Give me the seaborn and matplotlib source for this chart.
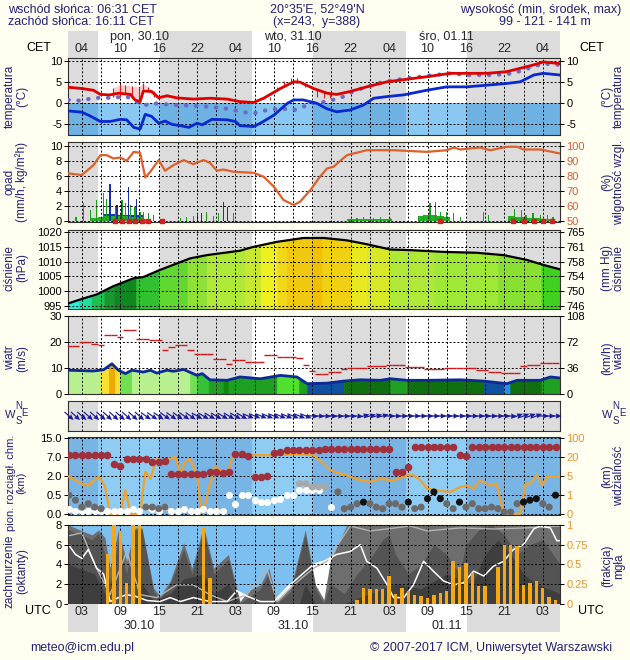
import numpy as np
import matplotlib
matplotlib.use("Agg")
import matplotlib.pyplot as plt
import seaborn as sns

sns.set_style("white")
plt.rcParams["font.family"] = ["Liberation Sans", "DejaVu Sans"]

# ================= DATA (time = hours UTC since 30.10 00:00) =================
sunrise_t = [5.5, 29.6, 53.7]
sunset_t = [15.2, 39.1, 63.1]
utc_tick_t = [3, 9, 15, 21, 27, 33, 39, 45, 51, 57, 63, 69, 75]
utc_labels = ['03', '09', '15', '21', '03', '09', '15', '21', '03', '09', '15', '21', '03']
cet_labels = ['04', '10', '16', '22', '04', '10', '16', '22', '04', '10', '16', '22', '04']
day_t = [12, 36, 60]
day_labels_top = ['pon, 30.10', 'wto, 31.10', 'śro, 01.11']
day_labels_bottom = ['30.10', '31.10', '01.11']
hours = np.arange(1, 78)

# temperature panel
temp_t = [0.9, 3, 4.8, 5.9, 7.4, 8.7, 10.6, 11.3, 12.1, 12.6, 13.9, 15, 16.3, 17.8, 20.4, 23, 25.7, 27.7,
          29.8, 31.4, 34, 36.1, 37.1, 39.2, 41.3, 42.8, 44.9, 47.5, 50.7, 53.8, 56.9, 60.6, 63.2, 66.3,
          69.4, 71.5, 73.6, 75.1, 77.7]
temp = [3.8, 3.5, 3.1, 2.1, 2.0, 2.4, 2.1, 0.8, 0.4, 2.9, 2.8, 1.3, 1.8, 1.3, 1.0, 1.2, 1.0, 0.4, 0.2, 1.2,
        3.5, 5.1, 5.0, 3.5, 2.4, 2.1, 2.8, 3.9, 5.1, 5.7, 6.3, 7.1, 7.1, 7.1, 7.5, 8.3, 9.1, 9.8, 9.4]
dew_t = [0.9, 3, 4.3, 5.9, 7.4, 9, 10, 11.1, 12.1, 12.9, 13.9, 15, 16, 17.1, 18.4, 19.7, 21, 21.8, 23.3,
         25.7, 27, 27.7, 29.8, 30.9, 33, 35.1, 36.1, 37.6, 39.7, 41.3, 42.8, 44.9, 47, 48.6, 50.7, 53.3,
         56.9, 60, 63.2, 66.3, 69.4, 71.5, 73.6, 75.1, 77.7]
dew = [-1.8, -2.1, -3.0, -4.3, -4.3, -3.8, -3.9, -5.7, -6.1, -2.6, -3.1, -4.7, -4.2, -5.0, -5.3, -5.7, -4.7,
       -5.1, -3.8, -3.9, -4.3, -5.3, -5.5, -4.7, -2.8, 0.0, 0.8, 0.8, 0.0, -1.3, -2.0, -1.6, -0.4, 1.2, 1.6,
       2.0, 3.1, 3.9, 3.9, 4.3, 4.7, 5.1, 6.7, 7.1, 6.7]
feel_t = [0.9, 3, 4.8, 7.4, 10, 11.6, 12.9, 14.2, 15.8, 17.8, 20.4, 23, 25.7, 28.3, 29.8, 31.9, 34, 36.1,
          37.1, 38.7, 41.3, 43.9, 45.5, 47.5, 50.1, 53.8, 56.9, 60.6, 63.2, 67.3, 70.4, 73.6, 75.1, 77.7]
feel = [0.8, 0.6, 1.3, 1.3, 1.6, 0.4, -0.4, 0.0, -0.2, -0.4, -0.6, -0.8, -1.3, -2.1, -2.4, -1.6, -1.2, -1.6,
        -1.2, 0.0, 0.4, 1.6, 2.9, 3.9, 5.1, 5.9, 6.5, 7.1, 6.7, 6.7, 7.1, 8.7, 9.4, 9.1]
spread_t = [7.9, 9.0, 9.8, 10.8, 11.9, 12.6, 13.3, 14.2, 32.4, 33.5, 34.6, 35.6, 36.6, 37.9, 39.7, 40.8, 41.8]
spread_lo = [1.6, 1.6, 2.1, 2.0, 0.8, 2.8, 2.8, 1.6, 0.8, 2.8, 3.9, 4.7, 4.7, 3.9, 1.6, 1.3, 1.3]
spread_hi = [3.6, 4.5, 4.3, 4.1, 3.9, 4.7, 3.9, 2.8, 1.6, 3.9, 5.3, 5.9, 5.9, 4.7, 3.5, 2.8, 2.4]

# precipitation / humidity panel
rh_t = [0.9, 3, 4.8, 5.9, 6.9, 7.9, 9, 10, 11.1, 12.1, 12.9, 13.7, 15, 16, 17.3, 18.9, 20.4, 22, 23, 24.1,
        25.1, 26.7, 29.8, 31.4, 33, 34.5, 36.1, 37.1, 38.7, 40.2, 41.3, 42.3, 44.4, 46.5, 47.5, 51.7, 56.9,
        60, 61.1, 62.1, 65.2, 66.8, 69.4, 71, 72, 74.6, 77.7]
rh = [81.8, 80.7, 87.3, 94.0, 94.0, 91.8, 92.4, 90.2, 96.2, 95.6, 79.1, 82.9, 90.7, 83.6, 87.3, 90.7, 88.0,
      90.7, 88.9, 83.6, 84.4, 82.9, 82.2, 79.6, 72.9, 64.0, 60.7, 62.9, 70.7, 79.6, 85.1, 86.2, 94.0, 96.2,
      97.3, 97.3, 96.2, 97.3, 99.1, 97.8, 99.1, 97.3, 99.6, 99.6, 97.8, 97.8, 95.1]
green_t = [2.1, 3.3, 4.3, 5.3, 6.4, 6.9, 7.4, 8.2, 9.25, 9.8, 10.6, 11.3, 12.1, 12.6, 13.4, 14.2, 18.4, 19.4,
           20.4, 22.5, 23.6, 24.4, 25.7, 26.7, 44.9, 46.0, 47.0, 48.6, 49.6, 51.2, 55.6, 56.4, 57.4, 58.2,
           59.0, 60.0, 61.1, 62.1, 65.8, 66.5, 70.6, 71.7, 72.4, 73.5, 74.6, 75.7, 76.6]
green_v = [0.5, 2.4, 1.4, 2.8, 3.7, 3.0, 2.4, 1.9, 2.8, 2.4, 2.1, 1.9, 1.2, 1.2, 1.0, 0.8, 0.35, 0.5, 0.6,
           1.2, 0.7, 1.0, 0.8, 1.0, 0.3, 0.4, 0.5, 0.4, 0.5, 0.4, 0.6, 0.8, 2.4, 2.6, 1.2, 1.2, 1.0, 0.5,
           1.2, 0.8, 1.6, 1.4, 0.8, 1.0, 0.8, 0.8, 0.5]
blue_t = [7.4, 8.5, 9.25, 10.3, 11.6, 21.0, 21.75, 25.1, 25.7]
blue_v = [5.0, 2.1, 2.6, 4.6, 3.0, 0.8, 1.0, 2.6, 1.9]
acc_t = [5, 6, 7, 8, 9, 10, 11, 12, 13, 45, 46, 47, 48, 49, 50, 51, 56, 57, 58, 59, 60, 70, 71, 72, 73, 74, 75, 76]
acc_green = [0.4, 0.5, 0.6, 0.6, 0.6, 0.6, 0.5, 0.5, 0.3, 0.2, 0.2, 0.25, 0.2, 0.25, 0.2, 0.2, 0.6, 0.8, 0.8,
             0.7, 0.5, 0.6, 0.5, 0.5, 0.4, 0.4, 0.3, 0.3]
accb_t = [7, 8, 9, 10, 11, 12]
accb_v = [0.95, 0.95, 0.85, 0.85, 0.85, 0.75]
red_t = [8.2, 9.25, 10.3, 11.3, 12.4, 13.4, 15.5, 59.0, 70.4, 72.0, 73.6, 75.1, 76.4]

# pressure panel
press_t = [0.9, 3, 5.3, 7.9, 11.1, 12.6, 15.2, 19.9, 22.5, 27.7, 29.8, 33.5, 37.6, 40.8, 44.4, 47.5, 51.2,
           54.3, 59.5, 64.7, 68.9, 72.5, 75.1, 77.7]
press = [995.9, 997.4, 998.9, 1001.7, 1004.4, 1004.8, 1007.2, 1011.1, 1012.2, 1013.7, 1015.0, 1016.7,
         1018.0, 1018.0, 1017.2, 1015.9, 1014.1, 1013.9, 1013.3, 1013.0, 1012.2, 1010.6, 1008.9, 1007.4]
press_edges = [0.88, 2.5, 4.5, 6.5, 8, 11.5, 15, 19.5, 22.5, 28.5, 31, 33.5, 35, 39, 40.5, 45, 47.5, 51, 58,
               68, 74.8, 77.7]
press_colors = ['#28F0E0', '#20E0A0', '#20C050', '#189830', '#108820', '#30C030', '#60D830', '#90E038',
                '#B0E838', '#C8E830', '#F0F020', '#F0D818', '#F0C810', '#F0C000', '#F0D010', '#E8E820',
                '#D8E828', '#B0E838', '#A0E838', '#88E030', '#40D020']
hpa_ticks = [995, 1000, 1005, 1010, 1015, 1020]
mmhg_labels = ['746', '750', '754', '758', '761', '765']

# wind panel
wind_t = [0.9, 4.8, 6.4, 7.7, 8.7, 9.8, 10.8, 12.6, 13.7, 14.7, 16.3, 17.3, 18.9, 21, 21.8, 23, 25.7, 27.7,
          30.9, 34, 36.6, 38.2, 41.3, 43.9, 46.5, 49.6, 51.2, 53.8, 56.9, 62.1, 65.8, 69.4, 71, 74.6, 76.2, 77.7]
wind = [9.1, 8.8, 9.3, 11.6, 9.1, 7.8, 9.1, 8.4, 9.1, 8.0, 9.1, 8.7, 9.4, 7.1, 7.8, 5.4, 5.2, 6.5, 5.8, 7.1,
        6.5, 3.9, 4.1, 4.9, 5.4, 5.2, 5.8, 5.2, 5.2, 5.4, 4.9, 3.9, 5.2, 5.2, 6.5, 6.1]
wind_edges = [0.88, 5.9, 7.2, 8.2, 9.0, 10.8, 19.9, 21.0, 22.8, 25.1, 25.9, 33.5, 36.9, 38.2, 43.9, 51.2,
              53.8, 65.8, 68.9, 69.9, 74.8, 77.7]
wind_colors = ['#B8F090', '#F8E030', '#F0A800', '#F8E030', '#70E050', '#B8F090', '#70E050', '#38C038',
               '#20A020', '#108810', '#20A020', '#50E030', '#20A020', '#1050A0', '#107010', '#20A020',
               '#107010', '#1050A0', '#2090F0', '#107010', '#20A020']
gust = [18.4, 18.4, 20, 20, 19.4, 18.8, 22.6, 22.6, 22, 24.8,
        24.8, 21.3, 21.3, 21, 21, 16.8, 18, 19, 19, 16.8,
        15.5, 15.5, 15.5, 13.6, 13.6, 11.6, 12.9, 12.9, 12.1, 12.1,
        12.1, 15.1, 15.1, 14.2, 14.2, 14.2, 13.8, 11.3, 8.7, 7.8,
        7.8, 8.4, 8.4, 9.4, 10.1, 10.1, 10.1, 10.6, 10.6, 10.6,
        11, 11, 11, 10.3, 10.3, 10.3, 9.7, 9.7, 9.7, 10.1,
        10.1, 10.1, 10.1, 10.1, 9.1, 9.1, 8.4, 8.4, 8.0, 8.0,
        8.0, 10.6, 11, 11, 11.9, 11.9, 11.9]
kmh_labels = ['0', '36', '72', '108']
wind_dir = [312, 312, 312, 312, 312, 312, 312, 312, 312, 312, 312, 312,
            305, 305, 305, 305, 305, 305, 305, 305,
            300, 300, 300, 300, 300, 300, 300, 300,
            292, 292, 292, 292, 292, 292, 292, 292, 292, 292,
            274, 274, 274, 274, 274, 274, 274, 274,
            255, 255, 255, 255,
            271, 271, 271, 271, 271, 271, 271, 271, 271, 271,
            271, 271, 271, 271, 271, 271, 271, 271, 271, 271,
            250, 250, 250, 250,
            270, 270, 270]

# cloud extent / visibility panel (km)
nan = np.nan
cloud_top = [7.6, 7.6, 7.6, 7.6, 7.6, 7.6, 7.6,
             5.2, 4.5, 6.3, 6.5, 6.5, 6.5, 5.7, 5.7, 6.0,
             2.45, 2.6, 2.6, 2.6, 2.6, 2.6, 3.0, 3.05, 2.8, 3.05,
             8.0, 8.0, 7.4, 1.96, 1.96, 2.0, 8.4, 8.8,
             9.7, 9.7, 9.7, 9.7, 9.7, 9.7,
             10.4, 10.4, 10.4, 10.4, 10.4, 10.4, 10.4, 10.4, 10.4, 10.4, 10.4,
             3.05, 3.05, 4.3,
             11.1, 11.1, 11.1, 11.1, 11.1, 11.1, 11.1,
             7.6, 7.4,
             11.1, 11.1, 11.1, 11.1, 11.1, 11.1, 11.1, 11.1, 11.1, 11.1, 11.1, 11.1, 11.1, 11.1]
cb_white = [0.15, 0.1, 0.1, 0.1, 0.1, 0.1, 0.1, 0.1, 0.1, 0.1, 0.15, 0.1, 0.19, 0.15, 0.1, 0.19, 0.1, 0.1,
            0.15, 0.1, 0.1, 0.15, 0.1, 0.1, 0.1,
            0.5, 0.28, 0.5, 0.5, 0.37, 0.32, 0.32, 0.37, 0.41, 0.5, 0.5, 0.88, 0.88, 0.88, 0.88, nan, 0.19,
            nan, nan, nan, nan, nan, nan, nan, nan, nan, nan, nan, nan, nan, nan, nan, nan, nan, nan, nan,
            nan, nan, nan, nan, nan, nan, nan, nan, nan, nan, nan, nan, nan, nan, nan, nan]
cb_dark = [0.5, 0.37, 0.19, 0.28, 0.19, 0.15,
           nan, nan, nan, nan, nan, nan,
           0.19, 0.19, 0.15, 0.19,
           nan, nan, nan, nan, nan, nan, nan, nan, nan, nan, nan, nan, nan, nan, nan, nan, nan, nan, nan, nan,
           1.4, 1.4, 1.14, 1.14, 1.14, nan, 0.75,
           0.15, 0.19, 0.28, 0.32, 0.28, 0.19, 0.15, 0.28, 0.28, 0.19, 0.32, 0.15, 0.19, 0.41, 0.75, 0.41,
           0.28, 0.15, 0.32, 0.19, 0.28, 0.15, 0.15, 0.19, 0.15, 0.06, 0.06, 0.28, 0.32, 0.37, 0.41, 0.28,
           0.19, 0.5]
vis_t = [0.9, 3, 4, 5.6, 6.6, 7.4, 9, 9.8, 10.6, 12.1, 12.9, 13.7, 14.7, 15.8, 16.8, 17.6, 18.4, 19.1, 19.9,
         21, 21.5, 22, 22.8, 23.8, 25.1, 25.7, 26.7, 28.8, 31.9, 36.1, 39.2, 40.8, 41.8, 44.4, 46.5, 48, 49.6,
         51.7, 53.8, 54.8, 55.9, 56.9, 59, 60.6, 62.1, 63.2, 64.2, 65.2, 66.8, 67.8, 68.9, 69.7, 71.5, 72.3,
         73, 74.1, 74.9, 75.7, 77.7]
vis = [4.9, 3.4, 3.0, 4.9, 3.0, 0.03, 0.03, 2.0, 0.03, 0.03, 8.2, 4.4, 18.5, 16, 18.5, 19.9, 6.8, 16, 18.5,
       5.5, 0.56, 0.03, 2.4, 12, 8.2, 6.8, 33.6, 26.4, 26.4, 30.4, 26.4, 14.6, 9.5, 5.5, 4.1, 3.8, 4.4, 4.1,
       5.5, 5.5, 4.1, 2.4, 1.9, 1.7, 2.7, 3.0, 2.4, 4.1, 3.0, 3.4, 0.03, 0.03, 0.03, 3.4, 3.4, 5.5, 3.0, 4.8,
       4.9]
cb_scale_km = [0.0, 0.5, 2.0, 7.0, 15.0]
cb_labels = ['0.0', '0.5', '2.0', '7.0', '15.0']
vis_scale_km = [0, 1, 5, 20, 100]
vis_labels = ['0', '1', '5', '20', '100']

# cloud cover (oktants) / fog panel
total_t = [0.9, 3, 4.6, 5.6, 6.6, 7.4, 8.7, 10, 11.3, 12.4, 14.2, 15.2, 16.8, 18.9, 20.2, 22, 23.6, 25.9,
           27.7, 29, 30.9, 32.2, 33.5, 35.6, 37.9, 39.5, 40.8, 41.8, 44.4, 77.7]
total = [8, 7.4, 7.0, 7.5, 6.7, 3.6, 7.5, 4.3, 7.7, 7.7, 1.6, 0.75, 2.3, 6.2, 3.6, 7.9, 3.6, 5.0, 0.2, 1.3,
         1.9, 3.6, 0.2, 1.6, 7.5, 1.9, 0.4, 4.3, 8, 8]
mid_t = [0.9, 3, 4.6, 5.6, 6.6, 7.4, 8.7, 10, 11.3, 12.4, 14.2, 15.2, 16.8, 18.9, 20.2, 22, 23.6, 25.9, 27.7,
         30.9, 32.2, 33.5, 35.6, 37.9, 39.5, 40.8, 41.8, 44, 46, 48, 50, 51, 52, 54, 56, 58, 60, 62, 63, 65,
         67, 69, 71, 73, 75, 77.7]
mid = [7.5, 7, 6.5, 7.2, 5, 2, 6.5, 3, 7.5, 7.5, 1.2, 0.5, 2, 5.5, 3, 7.5, 3, 4.5, 0, 1.5, 3, 0, 1.2, 7, 1.5,
       0, 2, 1, 3, 4.5, 6.5, 7, 5, 3, 4, 6, 5, 3, 6, 7.5, 8, 7, 5, 6, 6.5, 4]
low_t = [0.9, 3, 5, 6.6, 7.4, 11, 12.4, 14.2, 16.8, 18.9, 22, 23.6, 25.9, 27.7, 37, 37.9, 39.5, 44, 48, 52, 56,
         60, 64, 66, 68, 70, 72, 74, 77.7]
low = [4, 3.5, 3, 1, 0, 0, 2, 0.3, 1, 2.5, 3, 1, 2, 0, 0, 2, 0, 0, 1, 2, 1.5, 3, 2, 5, 6.5, 5, 3, 2, 1]
white_t = [0.9, 2, 3, 4, 5.3, 6.4, 7.4, 8.7, 10, 11.3, 13.2, 15.2, 16.8, 18.4, 20.4, 23, 25.7, 27.2, 28.8,
           30.9, 33, 35, 37.1, 39.2, 40.8, 42.8, 44.9, 46.5, 47.5, 49.1, 50.7, 51.7, 53.3, 54.8, 56.4, 57.9,
           59.5, 61.1, 62.6, 64.2, 65.8, 67.3, 68.9, 70.4, 72, 73.6, 74.6, 76.2, 77.2, 77.7]
white = [6.0, 5.0, 4.6, 5.5, 3.6, 3.0, 0.2, 0.6, 0.9, 0.75, 0.3, 0.2, 0.6, 0.2, 0.6, 0.2, 0.2, 1.3, 0.75, 0.2,
         0.2, 1.6, 2.8, 4.0, 4.3, 5.0, 5.3, 6.0, 4.3, 3.6, 1.9, 0.6, 0.6, 1.9, 4.3, 3.3, 2.3, 1.9, 2.1, 3.3,
         2.8, 3.8, 4.3, 5.5, 6.0, 7.6, 7.9, 7.7, 6.4, 6.4]
grey_t = [0.9, 3, 5.3, 7.4, 10, 12.1, 14.7, 17.8, 20.4, 23, 25.7, 28.8, 31.9, 33.5, 36.1, 39.2, 41.3, 44.9,
          48, 50.7, 54.3, 56.9, 62.1, 67.3, 72.4, 77.7]
grey = [6.9, 7.2, 3.6, 0.9, 5.3, 0.9, 0.6, 1.9, 1.9, 0.9, 0.2, 0.9, 3.6, 0.2, 1.9, 3.6, 4.3, 7.9, 7.4, 7.6,
        7.9, 7.4, 7.7, 7.6, 7.7, 7.9]
fog = [0, 0, 0, 0, 0, 0,
       0.63, 1.0, 0.92, 0.26, 1.0, 1.0,
       0, 0, 0, 0, 0, 0, 0, 0, 0,
       0.97, 0.33,
       0, 0, 0, 0, 0, 0, 0, 0, 0, 0, 0, 0, 0, 0, 0, 0, 0, 0, 0, 0, 0, 0,
       0.05, 0.2, 0.18, 0.18, 0.18, 0.35, 0.12, 0.2, 0.16, 0.11, 0.09, 0.07, 0.11, 0.14, 0.16, 0.54,
       0.46, 0.52, 0.39, 0.22, 0.22, 0, 0.46, 0.75, 0.75, 0.73, 0.24, 0.26, 0.29, 0.2, 0.08, 0.04]
fog_labels = ['0', '0.25', '0.5', '0.75', '1']

# ================= FIGURE =================
W, H = 630, 660
L, R = 68.3, 560.0
X0, X1 = 0.88, 77.7
NAVY = "#22227a"
BG = "#FFFEF0"
NIGHT = "#DCDCDC"
GRID_T = [3, 6, 9, 12, 15, 18, 21, 24, 27, 30, 33, 36, 39, 42, 45, 48, 51, 54, 57, 60, 63, 66, 69, 72, 75]
nights = [(X0, sunrise_t[0]), (sunset_t[0], sunrise_t[1]), (sunset_t[1], sunrise_t[2]), (sunset_t[2], X1)]
LBL = 8.5

fig = plt.figure(figsize=(W / 100, H / 100), dpi=100)
fig.patch.set_facecolor(BG)


def add_px(top, bottom):
    return fig.add_axes([L / W, 1 - bottom / H, (R - L) / W, (bottom - top) / H])


def setup(ax, ylim, yticks, ylabels, ygrid=True, day="white", night=NIGHT):
    ax.set_xlim(X0, X1)
    ax.set_ylim(*ylim)
    ax.set_facecolor(day)
    for a, b in nights:
        ax.axvspan(a, b, color=night, lw=0, zorder=0)
    ax.set_xticks(GRID_T)
    ax.tick_params(axis="x", length=0, labelbottom=False)
    ax.set_yticks(yticks)
    ax.set_yticklabels(ylabels)
    ax.tick_params(axis="y", length=3, width=0.7, labelsize=8, pad=1.5, colors="black")
    ax.grid(True, axis="x", color="black", ls=(0, (2, 2)), lw=0.7)
    if ygrid:
        ax.grid(True, axis="y", color="black", ls=(0, (2, 2)), lw=0.7)
    ax.set_axisbelow(False)
    for s in ax.spines.values():
        s.set_color("#303030")
        s.set_linewidth(0.8)


def right(ax, ticks, labels, color="black"):
    a2 = ax.twinx()
    a2.set_ylim(ax.get_ylim())
    a2.set_yticks(ticks)
    a2.set_yticklabels(labels)
    a2.tick_params(axis="y", length=3, width=0.7, labelsize=8, pad=1.5, labelcolor=color, color="black")
    a2.grid(False)
    for s in a2.spines.values():
        s.set_visible(False)
    return a2


def seg_fill(ax, ts, vs, edges, colors, base):
    for i, c in enumerate(colors):
        a, b = edges[i], edges[i + 1]
        xs = np.r_[a, [t for t in ts if a < t < b], b]
        ys = np.interp(xs, ts, vs)
        ax.fill_between(xs, base, ys, color=c, lw=0.4, edgecolor=c, zorder=1)


def side_labels(yc_px, left, rightlab, yr_px=None, fs=LBL):
    fig.text(16 / W, 1 - yc_px / H, left, rotation=90, ha="center", va="center", fontsize=fs, color=NAVY,
             multialignment="center", linespacing=1.0)
    yr = yc_px if yr_px is None else yr_px
    fig.text(613 / W, 1 - yr / H, rightlab, rotation=90, ha="center", va="center", fontsize=LBL,
             color=NAVY, multialignment="center", linespacing=1.0)


# ---- header strip
axh = add_px(31, 57.7)
axh.set_xlim(X0, X1)
axh.set_ylim(0, 1)
axh.set_facecolor("white")
for a, b in nights:
    axh.axvspan(a, b, color=NIGHT, lw=0, zorder=0)
axh.set_xticks([])
axh.set_yticks([])
for s in axh.spines.values():
    s.set_visible(False)
for t, lab in zip(utc_tick_t, cet_labels):
    axh.text(t, 0.33, lab, ha="center", va="center", fontsize=9)
for t, lab in zip(day_t, day_labels_top):
    axh.text(t, 0.78, lab, ha="center", va="center", fontsize=9)

# ---- P1 temperature
ax1 = add_px(57.7, 135)
setup(ax1, (-7.5, 10.8), [-5, 0, 5, 10], ['-5', '0', '5', '10'])
ax1.fill_between([X0, X1], -7.5, 0, color="#88C8F2", lw=0, zorder=0.2)
for a, b in nights:
    ax1.fill_between([a, b], -7.5, 0, color="#6EB2E4", lw=0, zorder=0.3)
ax1.fill_between(spread_t[:8], spread_lo[:8], spread_hi[:8], color="#F8D0D0", lw=0, zorder=1)
ax1.vlines(spread_t, spread_lo, spread_hi, color="#D02020", lw=0.8, zorder=3)
sns.lineplot(x=feel_t, y=feel, ax=ax1, color="#6A6AC8", lw=3, linestyle=(0, (0.1, 2.3)),
             dash_capstyle="round", estimator=None, zorder=3)
sns.lineplot(x=dew_t, y=dew, ax=ax1, color="#0A28D0", lw=2, estimator=None, zorder=4)
sns.lineplot(x=temp_t, y=temp, ax=ax1, color="#E00000", lw=2, estimator=None, zorder=5)
right(ax1, [-5, 0, 5, 10], ['-5', '0', '5', '10'])
side_labels(96, "temperatura\n(°C)", "(°C)\ntemperatura")

# ---- P2 precipitation / humidity
ax2 = add_px(141.7, 221.7)
setup(ax2, (-0.1, 10.6), [0, 2, 4, 6, 8, 10], ['0', '2', '4', '6', '8', '10'])
ax2.bar(accb_t, accb_v, width=1.0, color="#1838B0", lw=0, zorder=1)
ax2.bar(acc_t, acc_green, width=1.0, color="#20B020", lw=0, zorder=1.1)
ax2.bar(green_t, green_v, width=0.2, color="#18A018", lw=0, zorder=2)
ax2.bar(blue_t, blue_v, width=0.18, color="#1830B0", lw=0, zorder=2.1)
ax2.scatter(red_t, np.zeros(len(red_t)), marker="s", s=8, color="#D02020", zorder=4, clip_on=False)
sns.lineplot(x=rh_t, y=(np.array(rh) - 50) / 5, ax=ax2, color="#E0602C", lw=1.6, estimator=None, zorder=5)
right(ax2, [0, 2, 4, 6, 8, 10], ['50', '60', '70', '80', '90', '100'], color="#D2603A")
side_labels(182, "opad\n(mm/h, kg/m²h)", "(%)\nwilgotność wzgl.")

# ---- P3 pressure
ax3 = add_px(230, 309)
setup(ax3, (994, 1020.7), hpa_ticks, [str(v) for v in hpa_ticks])
seg_fill(ax3, press_t, press, press_edges, press_colors, 994)
sns.lineplot(x=press_t, y=press, ax=ax3, color="black", lw=1.6, estimator=None, zorder=5)
right(ax3, hpa_ticks, mmhg_labels)
side_labels(268, "ciśnienie\n(hPa)", "(mm Hg)\nciśnienie")

# ---- P4 wind
ax4 = add_px(316, 394)
setup(ax4, (-0.1, 30.1), [0, 10, 20, 30], ['0', '10', '20', '30'])
seg_fill(ax4, wind_t, wind, wind_edges, wind_colors, -0.1)
sns.lineplot(x=wind_t, y=wind, ax=ax4, color="#0C2A96", lw=2, estimator=None, zorder=5)
ax4.hlines(gust, hours - 0.5, hours + 0.5, color="#D01818", lw=1.0, zorder=4)
right(ax4, [0, 10, 20, 30], kmh_labels)
side_labels(358, "wiatr\n(m/s)", "(km/h)\nwiatr")

# ---- P5 wind direction
ax5 = add_px(401, 431)
setup(ax5, (-1, 1), [], [], ygrid=False)
ang = np.deg2rad(270 - np.array(wind_dir))
ax5.quiver(hours, np.zeros(len(hours)), np.cos(ang), np.sin(ang), angles="uv", scale_units="width",
           scale=40, width=0.0024, headwidth=4.5, headlength=5, headaxislength=4.5, pivot="middle",
           color="#1a1a9a", zorder=5, clip_on=False)
for cx in (16, 613):
    cy = 414
    fig.text((cx - 6) / W, 1 - (cy + 1) / H, "W", ha="center", va="center", fontsize=8, color=NAVY)
    fig.text((cx + 3) / W, 1 - (cy - 8) / H, "N", ha="center", va="center", fontsize=7, color=NAVY)
    fig.text((cx + 3) / W, 1 - (cy + 7) / H, "S", ha="center", va="center", fontsize=7, color=NAVY)
    fig.text((cx + 9) / W, 1 - (cy - 1) / H, "E", ha="center", va="center", fontsize=7, color=NAVY)

# ---- P6 cloud extent / visibility
ax6 = add_px(437, 515)
setup(ax6, (-0.03, 4.03), [0, 1, 2, 3, 4], cb_labels, day="#8ECCF4", night="#78B4E4")
idx = [0, 1, 2, 3, 4]
vis_i = np.interp(vis, vis_scale_km, idx)
sns.lineplot(x=vis_t, y=vis_i, ax=ax6, color="#F0A02C", lw=1.6, estimator=None, zorder=3)
top_i = np.interp(cloud_top, cb_scale_km, idx)
white_i = np.interp(cb_white, cb_scale_km, idx)
dark_v = np.array(cb_dark)
dark_i = np.interp(dark_v, cb_scale_km, idx)
dark_col = ["#111111" if (h >= 44 and v >= 0.3) else ("#A8A8A8" if v > 1 else "#6A6A6A")
            for h, v in zip(hours, dark_v)]
ax6.scatter(hours, top_i, s=30, color="#A0303C", lw=0, zorder=4)
ax6.scatter(hours, white_i, s=26, color="white", lw=0, zorder=4)
ax6.scatter(hours, dark_i, s=26, c=dark_col, lw=0, zorder=4)
right(ax6, idx, vis_labels, color="#E8962E")
side_labels(483, "pion. rozciągł. chm.\n(km)", "(km)\nwidzialność", yr_px=476, fs=8)

# ---- P7 cloud cover / fog
ax7 = add_px(525, 603.5)
setup(ax7, (0, 8), [0, 2, 4, 6, 8], ['0', '2', '4', '6', '8'], day="#7CC0F2", night="#7CC0F2")
ax7.fill_between(white_t, 0, white, color="white", lw=0, zorder=1)
ax7.fill_between(total_t, 0, total, color="#6E6E6E", lw=0, zorder=1.1)
ax7.fill_between(mid_t, 0, mid, color="#545454", lw=0, zorder=1.2)
ax7.fill_between(low_t, 0, low, color="#3E3E3E", lw=0, zorder=1.3)
sns.lineplot(x=grey_t, y=grey, ax=ax7, color="#B4B4B4", lw=1.0, estimator=None, zorder=2)
sns.lineplot(x=white_t, y=white, ax=ax7, color="white", lw=1.1, estimator=None, zorder=2.1)
ax7.bar(hours, np.array(fog) * 8, width=0.55, color="#F4A818", lw=0, zorder=3)
right(ax7, [0, 2, 4, 6, 8], fog_labels, color="#E8962E")
side_labels(571, "zachmurzenie\n(oktanty)", "(frakcja)\nmgła", yr_px=566)

# ---- bottom strip
axb = add_px(603.5, 632)
axb.set_xlim(X0, X1)
axb.set_ylim(0, 1)
axb.set_facecolor("white")
for a, b in nights:
    axb.axvspan(a, b, color=NIGHT, lw=0, zorder=0)
axb.set_xticks([])
axb.set_yticks([])
for s in axb.spines.values():
    s.set_visible(False)
for t, lab in zip(utc_tick_t, utc_labels):
    axb.text(t, 0.70, lab, ha="center", va="center", fontsize=9)
for t, lab in zip(day_t, day_labels_bottom):
    axb.text(t, 0.21, lab, ha="center", va="center", fontsize=9)

# ---- texts
def ftxt(x, y, s, **kw):
    fig.text(x / W, 1 - y / H, s, va="center", fontsize=kw.pop("fontsize", 9), **kw)

ftxt(8, 10, "wschód słońca: 06:31 CET", ha="left", color=NAVY)
ftxt(8, 22, "zachód słońca: 16:11 CET", ha="left", color=NAVY)
ftxt(317, 10, "20°35'E, 52°49'N", ha="center", color=NAVY)
ftxt(317, 22, "(x=243,  y=388)", ha="center", color=NAVY)
ftxt(621, 10, "wysokość (min, środek, max)", ha="right", color=NAVY)
ftxt(545, 22, "99 - 121 - 141 m", ha="center", color=NAVY)
ftxt(39, 48, "CET", ha="center", color="black")
ftxt(592, 48, "CET", ha="center", color="black")
ftxt(38, 611, "UTC", ha="center", color="black")
ftxt(591, 611, "UTC", ha="center", color="black")
ftxt(30, 648, "meteo@icm.edu.pl", ha="left", color=NAVY)
ftxt(612, 648, "© 2007-2017 ICM, Uniwersytet Warszawski", ha="right", color=NAVY)

fig.savefig("out.png", dpi=100, facecolor=BG)
